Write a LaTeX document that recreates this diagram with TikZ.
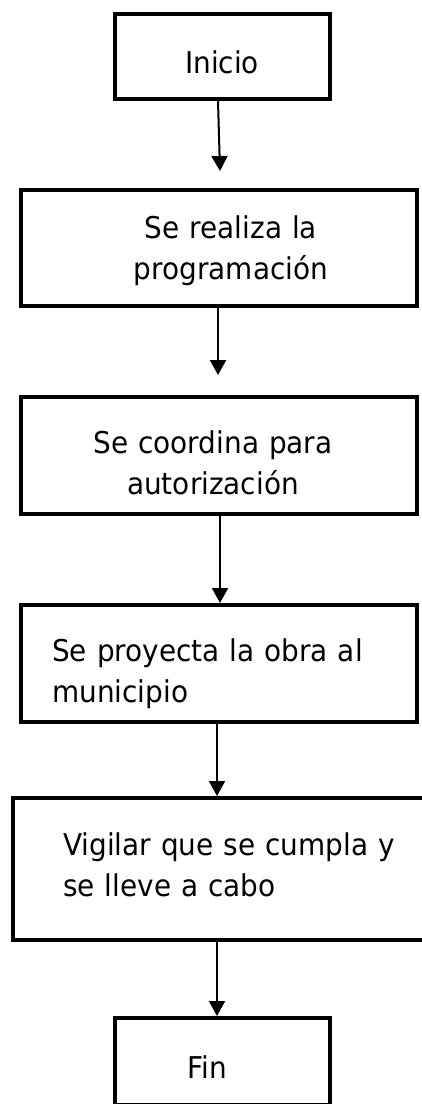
\documentclass[tikz,border=0pt]{standalone}
\usepackage{fontspec}
\setmainfont{DejaVu Sans}[FakeStretch=0.93]
\usetikzlibrary{arrows.meta}

\begin{document}
\begin{tikzpicture}[
    x=1pt, y=-1pt,
    stepbox/.style={rectangle, draw, line width=4pt, fill=white, inner sep=0pt},
    boxtext/.style={inner sep=0pt, font=\fontsize{30pt}{41pt}\selectfont, text width=#1},
    arrow/.style={-{Triangle[width=16pt, length=15pt]}, line width=2pt}
]

\useasboundingbox (0,0) rectangle (422,1104);

% === Boxes ===
\node[stepbox, minimum width=215, minimum height=85] (inicio) at (222.5,56.5) {};
\node[stepbox, minimum width=396, minimum height=116] (realiza) at (219,248) {};
\node[stepbox, minimum width=396, minimum height=117] (coordina) at (219,455.5) {};
\node[stepbox, minimum width=396, minimum height=117] (proyecta) at (219,663.5) {};
\node[stepbox, minimum width=420, minimum height=142] (vigilar) at (223,869) {};
\node[stepbox, minimum width=215, minimum height=87] (fin) at (222.5,1061.5) {};

% === Texts ===
\node[boxtext=150, align=center, anchor=base] (inicio-txt) at (222,73) {Inicio};
\node[boxtext=300, align=center, anchor=base] (realiza-txt) at (231,238) {Se realiza la\\programación};
\node[boxtext=300, align=center, anchor=base] (coordina-txt) at (213,453) {Se coordina para\\autorización};
\node[boxtext=350, align=left, anchor=base west] (proyecta-txt) at (52,661) {Se proyecta la obra al\\municipio};
\node[boxtext=360, align=left, anchor=base west] (vigilar-txt) at (63,855) {Vigilar que se cumpla y\\se lleve a cabo};
\node[boxtext=150, align=center, anchor=base] (fin-txt) at (207,1078) {Fin};

% === ARROWS ===
\coordinate (realiza-in) at (220,171);
\coordinate (coordina-in) at (218,375);

\draw[arrow] ([xshift=-4.5pt]inicio.south) -- (realiza-in);
\draw[arrow] ([xshift=-1pt]realiza.south) -- (coordina-in);
\draw[arrow] ([xshift=1pt]coordina.south) -- ([xshift=1pt]proyecta.north);
\draw[arrow] ([xshift=-2pt]proyecta.south) -- ([xshift=-2pt]proyecta.south |- vigilar.north);
\draw[arrow] ([xshift=-6pt]vigilar.south) -- ([xshift=-5.5pt]fin.north);

\end{tikzpicture}
\end{document}
